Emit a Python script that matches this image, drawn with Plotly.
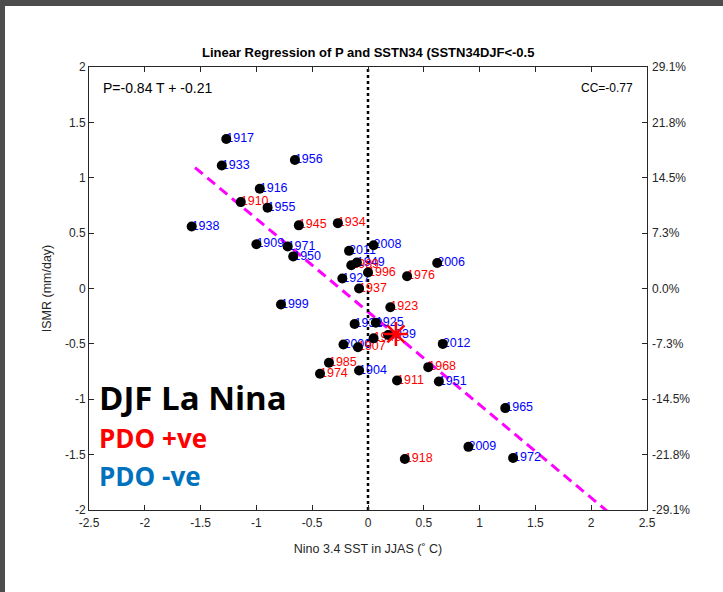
import plotly.graph_objects as go

# ---- data ----
years = ["1917", "1933", "1956", "1916", "1910", "1955", "1938", "1945", "1934",
         "1909", "1971", "1950", "2008", "2011", "1949", "1989", "1996", "1927",
         "1976", "2006", "1937", "1999", "1923", "1932", "1925", "1939", "1943",
         "2000", "1907", "2012", "1985", "1974", "1904", "1968", "1911", "1951",
         "1965", "2009", "1972", "1918"]
sst = [-1.27, -1.31, -0.655, -0.97, -1.14, -0.90, -1.58, -0.62, -0.27,
       -1.00, -0.72, -0.67, 0.05, -0.17, -0.10, -0.15, 0.00, -0.23,
       0.35, 0.62, -0.08, -0.78, 0.20, -0.12, 0.07, 0.18, 0.05,
       -0.22, -0.09, 0.67, -0.35, -0.43, -0.08, 0.54, 0.26, 0.635,
       1.23, 0.90, 1.30, 0.33]
ismr = [1.35, 1.11, 1.16, 0.90, 0.78, 0.73, 0.56, 0.57, 0.59,
        0.40, 0.38, 0.29, 0.39, 0.34, 0.235, 0.21, 0.145, 0.09,
        0.11, 0.23, 0.00, -0.145, -0.17, -0.32, -0.31, -0.42, -0.45,
        -0.505, -0.53, -0.50, -0.67, -0.77, -0.74, -0.71, -0.83, -0.84,
        -1.08, -1.43, -1.53, -1.54]
pdo = ["-", "-", "-", "-", "+", "-", "-", "+", "+",
       "-", "-", "-", "-", "-", "-", "+", "+", "-",
       "+", "-", "+", "-", "+", "-", "-", "-", "+",
       "-", "+", "-", "+", "+", "-", "+", "+", "-",
       "-", "-", "-", "+"]
mean_pt = [0.25, -0.41]
slope, intercept = -0.84, -0.21
fit_x = [-1.55, 2.5]
x_ticks = [-2.5, -2, -1.5, -1, -0.5, 0, 0.5, 1, 1.5, 2, 2.5]
y_ticks = [-2, -1.5, -1, -0.5, 0, 0.5, 1, 1.5, 2]
pct_labels = ["-29.1%", "-21.8%", "-14.5%", "-7.3%", "0.0%", "7.3%", "14.5%", "21.8%", "29.1%"]

W, H = 723, 592
ML, MR, MT, MB = 89, 76, 67, 82
AX = "#262626"
FONT = "Liberation Sans, Arial, sans-serif"

fig = go.Figure()

# regression line
fit_y = [slope * v + intercept for v in fit_x]
fig.add_trace(go.Scatter(x=fit_x, y=fit_y, mode="lines",
                         line=dict(color="#FF00FF", width=3, dash="10px,6px"),
                         hoverinfo="skip", showlegend=False))
# zero line
fig.add_trace(go.Scatter(x=[0, 0], y=[y_ticks[0], y_ticks[-1]], mode="lines",
                         line=dict(color="black", width=2.5, dash="dot"),
                         hoverinfo="skip", showlegend=False))
# year labels
colors = ["#FF0000" if p == "+" else "#0000FF" for p in pdo]
fig.add_trace(go.Scatter(x=sst, y=ismr, mode="text", text=years,
                         textposition="middle right",
                         textfont=dict(family=FONT, size=12.5, color=colors),
                         hoverinfo="skip", showlegend=False, cliponaxis=False))
# points
fig.add_trace(go.Scatter(x=sst, y=ismr, mode="markers",
                         marker=dict(color="black", size=10),
                         showlegend=False))
# mean asterisk
fig.add_trace(go.Scatter(x=[mean_pt[0]], y=[mean_pt[1]], mode="markers",
                         marker=dict(symbol="asterisk-open", size=20, color="#FF0000",
                                     line=dict(color="#FF0000", width=2.5)),
                         showlegend=False))
# secondary axis holder
fig.add_trace(go.Scatter(x=[None], y=[None], yaxis="y2", showlegend=False))

fig.update_layout(
    width=W, height=H,
    margin=dict(l=ML, r=MR, t=MT, b=MB),
    paper_bgcolor="white", plot_bgcolor="white",
    font=dict(family=FONT, size=12, color=AX),
    xaxis=dict(range=[x_ticks[0], x_ticks[-1]], tickvals=x_ticks,
               ticktext=[("%g" % v) for v in x_ticks],
               ticks="inside", ticklen=5, tickcolor=AX, showline=True,
               linecolor=AX, linewidth=1, mirror="ticks", showgrid=False,
               zeroline=False, ticklabelstandoff=2,
               title=dict(text="Nino 3.4 SST in JJAS (˚ C)", standoff=14,
                          font=dict(size=12.5))),
    yaxis=dict(range=[y_ticks[0], y_ticks[-1]], tickvals=y_ticks,
               ticktext=[("%g" % v) for v in y_ticks],
               ticks="inside", ticklen=5, tickcolor=AX, showline=True,
               linecolor=AX, linewidth=1, mirror="ticks", showgrid=False,
               zeroline=False,
               title=dict(text="ISMR (mm/day)", standoff=10,
                          font=dict(size=12.5))),
    yaxis2=dict(range=[y_ticks[0], y_ticks[-1]], tickvals=y_ticks,
                ticktext=pct_labels, overlaying="y", side="right",
                showgrid=False, zeroline=False, showline=False, ticks="",
                ticklabelstandoff=4),
)

pw = W - ML - MR
ph = H - MT - MB

def px2paper(xp, yp):
    return (xp - ML) / pw, (H - MB - yp) / ph

# dark frame strips
x0, y0 = px2paper(0, 0)
x1, y1 = px2paper(W, 6)
fig.add_shape(type="rect", xref="paper", yref="paper", x0=x0, x1=x1, y0=y1, y1=y0,
              fillcolor="#4d4d4d", line=dict(width=0), layer="above")
x0, y0 = px2paper(0, 0)
x1, y1 = px2paper(5, H)
fig.add_shape(type="rect", xref="paper", yref="paper", x0=x0, x1=x1, y0=y1, y1=y0,
              fillcolor="#4d4d4d", line=dict(width=0), layer="above")

tx, ty = px2paper(368, 52)
fig.add_annotation(text="<b>Linear Regression of P and SSTN34 (SSTN34DJF<-0.5</b>",
                   xref="paper", yref="paper", x=tx, y=ty, xanchor="center",
                   yanchor="middle", showarrow=False,
                   font=dict(family=FONT, size=13, color="black"))
ax_, ay_ = px2paper(101, 88)
fig.add_annotation(text="P=-0.84 T + -0.21", xref="paper", yref="paper",
                   x=ax_, y=ay_, xanchor="left", yanchor="middle", showarrow=False,
                   font=dict(family=FONT, size=14, color="black"))
ax_, ay_ = px2paper(635, 88)
fig.add_annotation(text="CC=-0.77", xref="paper", yref="paper",
                   x=ax_, y=ay_, xanchor="right", yanchor="middle", showarrow=False,
                   font=dict(family=FONT, size=12, color="black"))

BIG = "Open Sans, Noto Sans, sans-serif"
for txt, col, size, yc in [("DJF La Nina", "black", 33, 397),
                           ("PDO +ve", "#FF0000", 26, 438),
                           ("PDO -ve", "#0072BD", 26, 476)]:
    ax_, ay_ = px2paper(97, yc)
    fig.add_annotation(text="<b>" + txt + "</b>", xref="paper", yref="paper",
                       x=ax_, y=ay_, xanchor="left", yanchor="middle",
                       showarrow=False, font=dict(family=BIG, size=size, color=col))

fig.write_html("out.html")
